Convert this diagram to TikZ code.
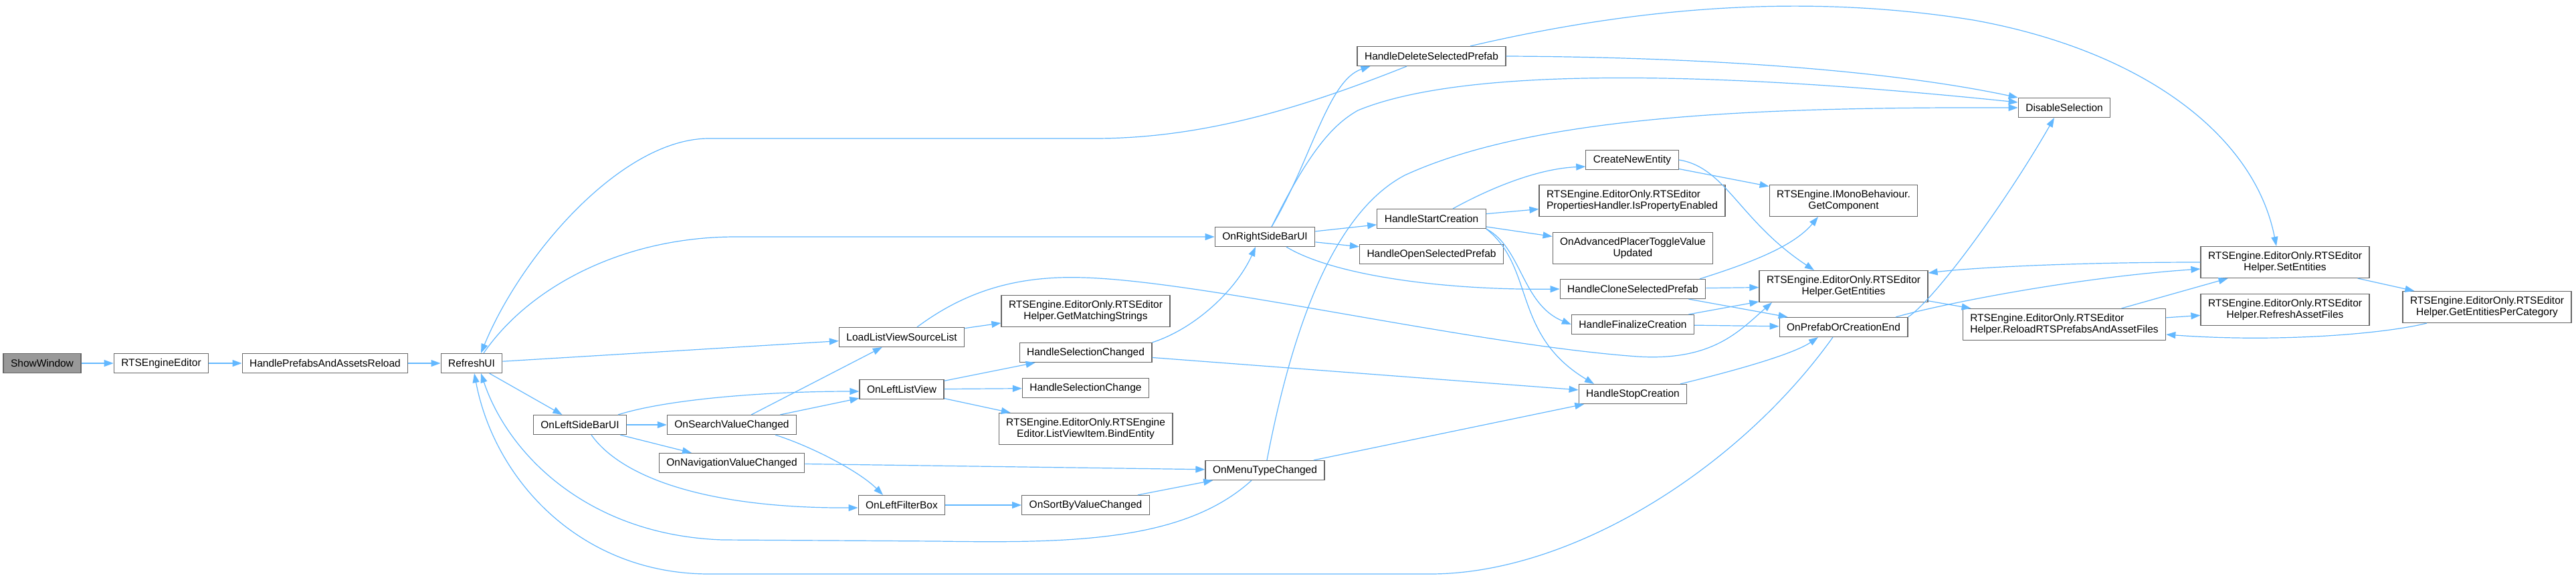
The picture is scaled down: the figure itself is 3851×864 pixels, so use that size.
\documentclass[tikz,border=0pt]{standalone}
\usepackage{fontspec}
\setmainfont{Liberation Sans}
\usepackage{tikz}
\usetikzlibrary{arrows.meta}
\definecolor{cgedge}{HTML}{63B8FF}
\definecolor{cgborder}{HTML}{666666}
\definecolor{cgrootfill}{HTML}{999999}
\tikzset{
  cgnode/.style={draw=cgborder, fill=white, line width=1.2pt, inner xsep=11pt,
                 inner ysep=0pt, minimum height=29pt,
                 font=\fontsize{15.5}{17.5}\selectfont},
  cgroot/.style={cgnode, fill=cgrootfill},
  cgtwo/.style={cgnode, align=center, minimum height=47pt},
  cgtwol/.style={cgtwo, align=left},
  cgarrow/.style={-{Triangle[length=14pt,width=10pt]}, draw=cgedge,
                  line width=1.2pt},
}

\begin{document}
\begin{tikzpicture}[x=1pt, y=-1pt]
  \useasboundingbox (0,0) rectangle (3851,864);
  \fill[white] (0,0) rectangle (3851,864);

  % --- entry chain ---
  \node[cgroot] (showwin)       at (  63,543) {ShowWindow};
  \node[cgnode] (rtseditor)     at ( 241,543) {RTSEngineEditor};
  \node[cgnode] (prefabsreload) at ( 486,543) {HandlePrefabsAndAssetsReload};
  \node[cgnode] (refreshui)     at ( 705,543) {RefreshUI};

  % --- left side bar ---
  \node[cgnode] (leftbar)   at ( 867,635) {OnLeftSideBarUI};
  \node[cgnode] (searchchg) at (1094,635) {OnSearchValueChanged};
  \node[cgnode] (navchg)    at (1094,692) {OnNavigationValueChanged};
  \node[cgnode] (loadlist)  at (1348,504) {LoadListViewSourceList};
  \node[cgnode] (leftlist)  at (1348,582) {OnLeftListView};
  \node[cgnode] (filterbox) at (1348,755) {OnLeftFilterBox};
  \node[cgtwo]  (matchstr)  at (1623,465) {RTSEngine.EditorOnly.RTSEditor\\Helper.GetMatchingStrings};
  \node[cgnode] (selchanged) at (1623,527) {HandleSelectionChanged};
  \node[cgnode] (selchange) at (1623,580) {HandleSelectionChange};
  \node[cgtwo]  (bindent)   at (1623,641) {RTSEngine.EditorOnly.RTSEngine\\Editor.ListViewItem.BindEntity};
  \node[cgnode] (sortchg)   at (1623,755) {OnSortByValueChanged};

  % --- right side bar ---
  \node[cgnode] (rightbar)   at (1891,354) {OnRightSideBarUI};
  \node[cgnode] (menuchg)    at (1891,703) {OnMenuTypeChanged};
  \node[cgnode] (delprefab)  at (2140, 84) {HandleDeleteSelectedPrefab};
  \node[cgnode] (startcre)   at (2140,327) {HandleStartCreation};
  \node[cgnode] (openprefab) at (2140,380) {HandleOpenSelectedPrefab};
  \node[cgnode] (newent)     at (2440,239) {CreateNewEntity};
  \node[cgtwol] (propenabled) at (2440,300) {RTSEngine.EditorOnly.RTSEditor\\PropertiesHandler.IsPropertyEnabled};
  \node[cgtwo]  (advplacer)  at (2441,371) {OnAdvancedPlacerToggleValue\\Updated};
  \node[cgnode] (cloneprefab) at (2441,432) {HandleCloneSelectedPrefab};
  \node[cgnode] (finalcre)   at (2441,485) {HandleFinalizeCreation};
  \node[cgnode] (stopcre)    at (2441,589) {HandleStopCreation};

  % --- editor helper ---
  \node[cgtwo]  (getcomp)      at (2756,300) {RTSEngine.IMonoBehaviour.\\GetComponent};
  \node[cgtwo]  (getents)      at (2756,428) {RTSEngine.EditorOnly.RTSEditor\\Helper.GetEntities};
  \node[cgnode] (creationend)  at (2756,489) {OnPrefabOrCreationEnd};
  \node[cgnode] (disablesel)   at (3086,161) {DisableSelection};
  \node[cgtwol] (reloadfiles)  at (3086,485) {RTSEngine.EditorOnly.RTSEditor\\Helper.ReloadRTSPrefabsAndAssetFiles};
  \node[cgtwo]  (setents)      at (3416,392) {RTSEngine.EditorOnly.RTSEditor\\Helper.SetEntities};
  \node[cgtwo]  (refreshfiles) at (3416,463) {RTSEngine.EditorOnly.RTSEditor\\Helper.RefreshAssetFiles};
  \node[cgtwo]  (entspercat)   at (3718,459) {RTSEngine.EditorOnly.RTSEditor\\Helper.GetEntitiesPerCategory};

  % --- calls: entry chain ---
  \draw[cgarrow] (showwin) -- (rtseditor);
  \draw[cgarrow] (rtseditor) -- (prefabsreload);
  \draw[cgarrow] (prefabsreload) -- (refreshui);
  \draw[cgarrow] (refreshui) -- (loadlist);
  \draw[cgarrow] (refreshui) -- (leftbar);
  \draw[cgarrow] ([xshift=18pt]refreshui.north) .. controls (790,430) and (930,354) .. (1100,354) -- (rightbar.west);

  % --- calls: left side ---
  \draw[cgarrow] ([xshift=57pt]leftbar.north) .. controls (1000,596) and (1150,585) .. ([yshift=-3pt]leftlist.west);
  \draw[cgarrow] (leftbar) -- (searchchg);
  \draw[cgarrow] (leftbar) -- (navchg);
  \draw[cgarrow] ([xshift=17pt]leftbar.south) .. controls (930,715) and (1060,760) .. ([yshift=-4pt]filterbox.west);
  \draw[cgarrow] (searchchg) -- (loadlist);
  \draw[cgarrow] (searchchg) -- (leftlist);
  \draw[cgarrow] ([xshift=65pt]searchchg.south) .. controls (1215,668) and (1285,705) .. ([xshift=-28pt]filterbox.north);
  \draw[cgarrow] (loadlist) -- (matchstr);
  \draw[cgarrow] ([xshift=23pt]loadlist.north) .. controls (1450,430) and (1530,412) .. (1620,415)
    .. controls (1800,420) and (2200,515) .. (2448,533) .. controls (2560,540) and (2600,495) .. ([xshift=-107pt]getents.south);
  \draw[cgarrow] (leftlist) -- (selchanged);
  \draw[cgarrow] (leftlist) -- (selchange);
  \draw[cgarrow] (leftlist) -- (bindent);
  \draw[cgarrow] (filterbox) -- (sortchg);
  \draw[cgarrow] (navchg) -- (menuchg);
  \draw[cgarrow] (sortchg) -- (menuchg);
  \draw[cgarrow] (selchanged.north east) .. controls (1790,490) and (1850,430) .. ([xshift=-14pt]rightbar.south);
  \draw[cgarrow] (selchanged) -- (stopcre);

  % --- calls: menu type ---
  \draw[cgarrow] ([xshift=-20pt]menuchg.south) .. controls (1770,810) and (1600,812) .. (1400,809) -- (1080,807)
    .. controls (880,800) and (760,680) .. ([xshift=14pt]refreshui.south);
  \draw[cgarrow] ([xshift=3pt]menuchg.north) .. controls (1930,500) and (1990,320) .. (2100,262)
    .. controls (2300,170) and (2650,160) .. (disablesel.west);
  \draw[cgarrow] (menuchg) -- (stopcre);

  % --- calls: right side ---
  \draw[cgarrow] ([xshift=10pt]rightbar.north) .. controls (1960,240) and (1985,120) .. ([xshift=20pt]delprefab.south west);
  \draw[cgarrow] ([xshift=10pt]rightbar.north) .. controls (1960,220) and (1995,185) .. (2030,165)
    .. controls (2200,95) and (2600,110) .. ([yshift=8pt]disablesel.west);
  \draw[cgarrow] (rightbar) -- (startcre);
  \draw[cgarrow] (rightbar) -- (openprefab);
  \draw[cgarrow] ([xshift=32pt]rightbar.south) .. controls (1990,410) and (2150,434) .. (cloneprefab.west);
  \draw[cgarrow] ([xshift=-37pt]delprefab.south) .. controls (1950,160) and (1800,207) .. (1636,207) -- (1060,207)
    .. controls (930,207) and (780,380) .. ([xshift=14pt]refreshui.north);
  \draw[cgarrow] (delprefab.east) .. controls (2500,85) and (2800,100) .. (disablesel.north west);
  \draw[cgarrow] ([xshift=58pt]delprefab.north) .. controls (2450,10) and (2700,-10) .. (2950,30)
    .. controls (3200,75) and (3370,200) .. ([xshift=-13pt]setents.north);

  % --- calls: creation ---
  \draw[cgarrow] ([xshift=32pt]startcre.north) .. controls (2230,280) and (2300,252) .. ([yshift=-10pt]newent.west);
  \draw[cgarrow] (startcre) -- (propenabled);
  \draw[cgarrow] (startcre) -- (advplacer);
  \draw[cgarrow] (startcre.south east) .. controls (2275,370) and (2275,455) .. (finalcre.west);
  \draw[cgarrow] (startcre.south east) .. controls (2295,400) and (2260,500) .. ([xshift=-58pt]stopcre.north);
  \draw[cgarrow] (newent) -- (getcomp);
  \draw[cgarrow] (newent.east) .. controls (2580,250) and (2600,330) .. ([xshift=-44pt]getents.north);
  \draw[cgarrow] ([xshift=100pt]cloneprefab.north) .. controls (2610,395) and (2680,370) .. ([xshift=-38pt]getcomp.south);
  \draw[cgarrow] (cloneprefab) -- (getents);
  \draw[cgarrow] (cloneprefab) -- (creationend);
  \draw[cgarrow] (finalcre) -- (getents);
  \draw[cgarrow] (finalcre) -- (creationend);
  \draw[cgarrow] ([xshift=71pt]stopcre.north) .. controls (2590,555) and (2680,530) .. ([xshift=-38pt]creationend.south);

  % --- calls: creation end and helper ---
  \draw[cgarrow] ([xshift=-16pt]creationend.south) .. controls (2600,700) and (2350,858) .. (2138,858) -- (1060,858)
    .. controls (870,858) and (740,720) .. ([xshift=4pt]refreshui.south);
  \draw[cgarrow] (creationend.north east) .. controls (2895,445) and (3000,300) .. ([xshift=-15pt]disablesel.south);
  \draw[cgarrow] ([xshift=78pt]creationend.north) .. controls (2900,455) and (3100,415) .. ([yshift=-10pt]setents.west);
  \draw[cgarrow] (setents.west) .. controls (3100,392) and (2950,400) .. ([yshift=20pt]getents.east);
  \draw[cgarrow] (setents) -- (entspercat);
  \draw[cgarrow] (getents) -- (reloadfiles);
  \draw[cgarrow] (reloadfiles) -- (setents);
  \draw[cgarrow] (reloadfiles) -- (refreshfiles);
  \draw[cgarrow] ([xshift=-90pt]entspercat.south) .. controls (3560,500) and (3400,512) .. ([yshift=-15pt]reloadfiles.east);
\end{tikzpicture}
\end{document}
